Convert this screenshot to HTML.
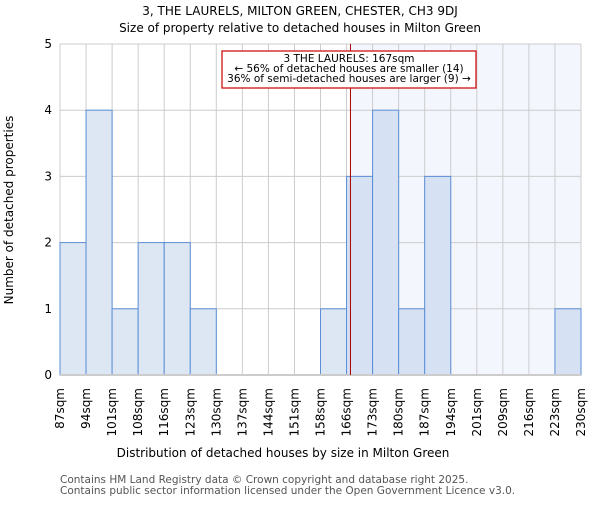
<!DOCTYPE html>
<html><head><meta charset="utf-8"><style>
body{margin:0;background:#fff;}
svg text{font-family:"DejaVu Sans","Liberation Sans",sans-serif;}
</style></head><body>
<svg id="c" width="600" height="500" xmlns="http://www.w3.org/2000/svg">
<text x="300" y="15" text-anchor="middle" font-size="12">3, THE LAURELS, MILTON GREEN, CHESTER, CH3 9DJ</text>
<text x="300" y="32" text-anchor="middle" font-size="12">Size of property relative to detached houses in Milton Green</text>
<g id="plot"></g>
<text x="283" y="457" text-anchor="middle" font-size="12">Distribution of detached houses by size in Milton Green</text>
<text transform="translate(13,210) rotate(-90)" text-anchor="middle" font-size="12">Number of detached properties</text>
<text x="60" y="483" font-size="10.5" fill="#555">Contains HM Land Registry data © Crown copyright and database right 2025.</text>
<text x="60" y="494" font-size="10.5" fill="#555">Contains public sector information licensed under the Open Government Licence v3.0.</text>
</svg>
<script>
const edges=["87sqm","94sqm","101sqm","108sqm","116sqm","123sqm","130sqm","137sqm","144sqm","151sqm","158sqm","166sqm","173sqm","180sqm","187sqm","194sqm","201sqm","209sqm","216sqm","223sqm","230sqm"];
const counts=[2,4,1,2,2,1,0,0,0,0,1,3,4,1,3,0,0,0,0,1];
const yTicks=[0,1,2,3,4,5];
const markerPos=11.15;
const NS="http://www.w3.org/2000/svg";
const g=document.getElementById('plot');
const L=60,R=581,T=44,B=375;
const n=counts.length;
const xs=i=>L+(R-L)*i/n;
const ys=v=>B-(B-T)*v/5;
function mk(t,a){const e=document.createElementNS(NS,t);for(const k in a)e.setAttribute(k,a[k]);g.appendChild(e);return e;}
const mx=xs(markerPos);
const sh=mk('rect',{x:mx,y:T,width:R-mx,height:B-T,fill:'#f3f6fd'});


yTicks.forEach(v=>{
 const l=mk('line',{x1:L,x2:R,y1:ys(v),y2:ys(v),stroke:'#ccc','stroke-width':1});
 
 
 const t=mk('text',{x:L-8,y:ys(v)+4,'text-anchor':'end','font-size':12});
 t.textContent=v;
 
 
});
edges.forEach((s,i)=>{
 const l=mk('line',{x1:xs(i),x2:xs(i),y1:T,y2:B,stroke:'#ccc','stroke-width':1});
 
 
 const t=mk('text',{transform:`translate(${xs(i)+4},388) rotate(-90)`,'text-anchor':'end','font-size':12});
 t.textContent=s;
 
 
});
counts.forEach((c,i)=>{
 if(!c)return;
 const r=mk('rect',{x:xs(i),y:ys(c),width:xs(i+1)-xs(i),height:B-ys(c),fill:i>=11?'#d6e1f3':'#dde6f3',stroke:'#5b8fd6','stroke-width':1});
 
 
});
const ax=mk('line',{x1:L,x2:R,y1:B,y2:B,stroke:'#ccc','stroke-width':2});


const m=mk('line',{x1:mx,x2:mx,y1:T,y2:B,stroke:'#a00','stroke-width':1});


const box=mk('rect',{x:222,y:51,width:254,height:37,fill:'#fff',stroke:'#c00','stroke-width':1.2});


["3 THE LAURELS: 167sqm","← 56% of detached houses are smaller (14)","36% of semi-detached houses are larger (9) →"].forEach((s,i)=>{
 const t=mk('text',{x:349,y:62+i*10,'text-anchor':'middle','font-size':10.5});
 t.textContent=s;
 
 
});
</script>
</body></html>
